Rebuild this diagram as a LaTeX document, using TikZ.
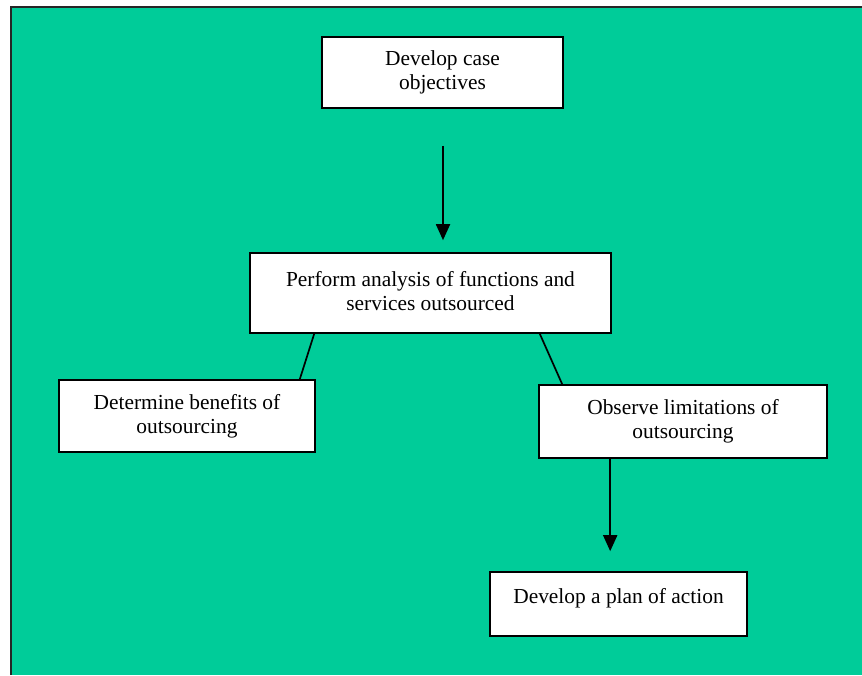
\documentclass[tikz,border=0pt]{standalone}
\usepackage{fontspec}
\setmainfont{Liberation Serif}
\usetikzlibrary{arrows.meta}

\definecolor{bggreen}{RGB}{0,204,153}

\begin{document}
\begin{tikzpicture}[x=1pt, y=1pt, >={Triangle[width=14pt,length=16pt]},
	box/.style={draw, fill=white, line width=1.6pt, align=center, inner sep=2pt,
		font=\fontsize{21.4}{24}\selectfont},
	arr/.style={->, line width=1.8pt},
	link/.style={line width=1.7pt}]

		\useasboundingbox (0,0) rectangle (862,-675);
		\fill[bggreen] (11,-7) rectangle (862,-675);
		\draw[line width=2.5pt, black!85] (11,-675) -- (11,-7) -- (862,-7);

		\node[box, minimum width=241pt, minimum height=71pt] (b1) at (442.5,-72.5) {Develop case\\objectives};
		\node[box, minimum width=361pt, minimum height=80pt] (b2) at (430.5,-293) {\raisebox{1.5pt}[\height][\depth]{Perform analysis of functions and}\\\raisebox{1.5pt}[\height][\depth]{services outsourced}};
		\node[box, minimum width=256pt, minimum height=72pt] (b3) at (187,-416) {Determine benefits of\\outsourcing};
		\node[box, minimum width=288pt, minimum height=73pt] (b4) at (683,-421.5) {Observe limitations of\\outsourcing};
		\node[box, minimum width=257pt, minimum height=64pt] (b5) at (618.5,-604) {\raisebox{6pt}[\height][\depth]{Develop a plan of action}};

		\draw[arr] ([xshift=0.5pt,yshift=-37pt]b1.south) -- ([xshift=0.5pt,yshift=12pt]b2.north -| b1.south);
		\draw[link] ([xshift=65pt]b2.south west) -- ([xshift=-16pt]b3.north east);
		\draw[link] ([xshift=-72pt]b2.south east) -- ([xshift=24pt]b4.north west);
		\draw[arr] ([xshift=72pt]b4.south west) -- ([xshift=121pt,yshift=20pt]b5.north west);

\end{tikzpicture}
\end{document}
